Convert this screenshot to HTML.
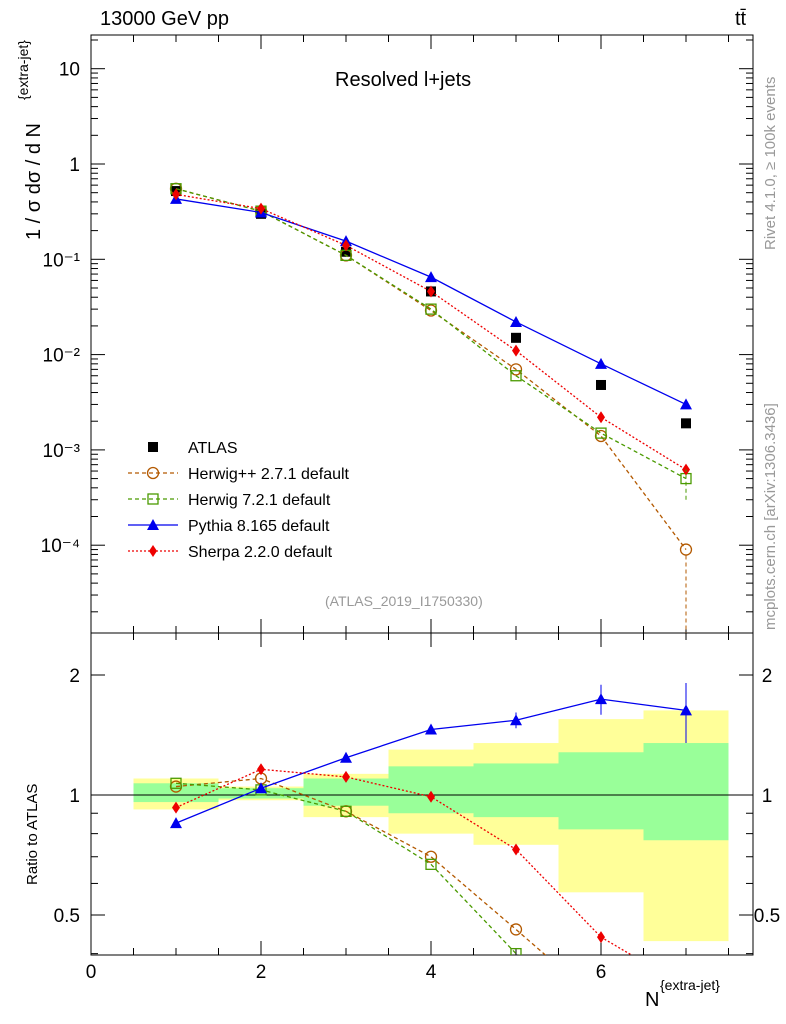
<!DOCTYPE html>
<html><head><meta charset="utf-8"><style>
html,body{margin:0;padding:0;background:#fff;width:786px;height:1024px;overflow:hidden}
svg{display:block;font-family:"Liberation Sans",sans-serif}
</style></head><body>
<svg id="c" width="786" height="1024" viewBox="0 0 786 1024" xmlns="http://www.w3.org/2000/svg"></svg>
<script>
const xs=[1,2,3,4,5,6,7];
const atlas=[0.52,0.30,0.12,0.046,0.015,0.0048,0.0019];
const herwigpp=[0.55,0.32,0.11,0.029,0.007,0.0014,0.00009];
const herwig7=[0.55,0.32,0.11,0.030,0.006,0.0015,0.0005];
const pythia=[0.43,0.31,0.155,0.065,0.022,0.008,0.003];
const sherpa=[0.48,0.34,0.14,0.046,0.011,0.0022,0.00062];
const rHpp=[1.05,1.10,0.91,0.70,0.46,0.30,0.05];
const rH7=[1.07,1.03,0.91,0.67,0.40,0.31,0.26];
const rPy=[0.85,1.04,1.24,1.46,1.54,1.74,1.63];
const rPyErr=[0.01,0.01,0.02,0.04,0.07,0.15,0.28];
const rSh=[0.93,1.16,1.11,0.99,0.73,0.44,0.33];
const bandYlo=[0.92,0.97,0.88,0.80,0.75,0.57,0.43];
const bandYhi=[1.10,1.05,1.13,1.30,1.35,1.55,1.63];
const bandGlo=[0.96,0.98,0.94,0.90,0.88,0.82,0.77];
const bandGhi=[1.07,1.04,1.10,1.18,1.20,1.28,1.35];
const yTicksMain=[-4,-3,-2,-1,0,1];
const yLabelsMain=["10\u207B\u2074","10\u207B\u00B3","10\u207B\u00B2","10\u207B\u00B9","1","10"];

const NS="http://www.w3.org/2000/svg",svg=document.getElementById('c');
function el(t,a,p){const e=document.createElementNS(NS,t);for(const k in a)e.setAttribute(k,a[k]);(p||svg).appendChild(e);return e;}
const L=91,R=753,T1=35,B1=633,T2=633,B2=955;
const X=v=>L+v*85;
const Y1=v=>164-Math.log10(v)*95.3;
const Y2=v=>795-Math.log2(v)*120;
const defs=el('defs',{});
const c1=el('clipPath',{id:'c1'},defs);el('rect',{x:L,y:T1,width:R-L,height:B1-T1},c1);
const c2=el('clipPath',{id:'c2'},defs);el('rect',{x:L,y:T2,width:R-L,height:B2-T2},c2);
const gb=el('g',{'clip-path':'url(#c2)'});

xs.forEach((x,i)=>{
 const r=el('rect',{x:X(x-0.5),y:Y2(bandYhi[i]),width:85,height:Y2(bandYlo[i])-Y2(bandYhi[i]),fill:'#ffff99'},gb);
 
 const g=el('rect',{x:X(x-0.5),y:Y2(bandGhi[i]),width:85,height:Y2(bandGlo[i])-Y2(bandGhi[i]),fill:'#99ff99'},gb);
 
});
el('line',{x1:L,x2:R,y1:Y2(1),y2:Y2(1),stroke:'#000','stroke-width':1});
el('rect',{x:L,y:T1,width:R-L,height:B1-T1,fill:'none',stroke:'#000'});
el('rect',{x:L,y:T2,width:R-L,height:B2-T2,fill:'none',stroke:'#000'});
function tk(x1,y1,x2,y2){el('line',{x1,y1,x2,y2,stroke:'#000','stroke-width':1});}
for(let v=0;v<=7.7;v+=0.5){const maj=v%2===0;const l=maj?14:7;const x=X(v);
 [B1,B2].forEach(b=>tk(x,b,x,b-l));[T1,T2].forEach(t=>tk(x,t,x,t+l));}
[0,2,4,6].forEach(v=>{const t=el('text',{x:X(v),y:978,'font-size':19,'text-anchor':'middle'});t.textContent=v;});
for(let d=-5;d<=1;d++)for(let m=1;m<10;m++){const v=m*Math.pow(10,d);const y=Y1(v);if(y<T1||y>B1)continue;const l=m===1?14:7;tk(L,y,L+l,y);tk(R,y,R-l,y);}
yTicksMain.forEach((d,i)=>{const t=el('text',{x:80,y:Y1(Math.pow(10,d))+7,'font-size':19,'text-anchor':'end'});t.textContent=yLabelsMain[i];
 });
[0.4,0.5,0.6,0.7,0.8,0.9,1,2].forEach(v=>{const y=Y2(v);const l=(v===1||v===2||v===0.5)?14:7;tk(L,y,L+l,y);tk(R,y,R-l,y);});
[[2,'2'],[1,'1'],[0.5,'0.5']].forEach(([v,s])=>{const a=el('text',{x:80,y:Y2(v)+7,'font-size':19,'text-anchor':'end'});a.textContent=s;
 const b=el('text',{x:767,y:Y2(v)+7,'font-size':19,'text-anchor':'middle'});b.textContent=s;});
function txt(x,y,s,sz,extra,name){const t=el('text',Object.assign({x,y,'font-size':sz},extra||{}));t.textContent=s;return t;}
txt(100,25,'13000 GeV pp',20,{},'title-energy');
txt(735,25,'tt\u0304',20,{},'title-process');
txt(335,86,'Resolved l+jets',20,{},'plot-title');
txt(325,606,'(ATLAS_2019_I1750330)',14,{fill:'#999'},'analysis-id');
txt(0,0,'1 / σ dσ / d N',20,{transform:'translate(40,240) rotate(-90)'},'y-axis-title');
txt(0,0,'{extra-jet}',14,{transform:'translate(28,100) rotate(-90)'},'y-axis-title-sub');
txt(0,0,'Ratio to ATLAS',15,{transform:'translate(37,885) rotate(-90)'},'ratio-y-title');
txt(645,1006,'N',20,{},'x-axis-title');
txt(660,990,'{extra-jet}',14,{},'x-axis-title-sub');
txt(0,0,'Rivet 4.1.0, ≥ 100k events',15,{fill:'#999',transform:'translate(775,250) rotate(-90)'},'rivet-label');
txt(0,0,'mcplots.cern.ch [arXiv:1306.3436]',15,{fill:'#999',transform:'translate(775,630) rotate(-90)'},'mcplots-label');
function marker(g,type,x,y,col){
 if(type==='sq')el('rect',{x:x-5,y:y-5,width:10,height:10,fill:col},g);
 else if(type==='osq')el('rect',{x:x-5,y:y-5,width:10,height:10,fill:'none',stroke:col,'stroke-width':1.3},g);
 else if(type==='oc')el('circle',{cx:x,cy:y,r:5.5,fill:'none',stroke:col,'stroke-width':1.3},g);
 else if(type==='tri')el('polygon',{points:`${x},${y-6} ${x-6},${y+5} ${x+6},${y+5}`,fill:col},g);
 else if(type==='dia')el('polygon',{points:`${x},${y-6} ${x-4},${y} ${x},${y+6} ${x+4},${y}`,fill:col},g);
}
function series(name,vals,Yf,clip,col,dash,type,line){
 const g=el('g',{'clip-path':clip});
 
 if(line){const p=el('polyline',{points:xs.map((x,i)=>X(x)+','+Yf(vals[i])).join(' '),fill:'none',stroke:col,'stroke-width':1.3},g);if(dash)p.setAttribute('stroke-dasharray',dash);}
 xs.forEach((x,i)=>marker(g,type,X(x),Yf(vals[i]),col));
 return g;
}
series('series-atlas',atlas,Y1,'url(#c1)','#000',null,'sq',false);
series('series-herwigpp',herwigpp,Y1,'url(#c1)','#b35900','4,3','oc',true);
series('series-herwig7',herwig7,Y1,'url(#c1)','#4a9a00','4,3','osq',true);
series('series-pythia',pythia,Y1,'url(#c1)','#0000ee',null,'tri',true);
series('series-sherpa',sherpa,Y1,'url(#c1)','#ee0000','2,2','dia',true);
el('line',{x1:X(7),x2:X(7),y1:Y1(herwigpp[6])+6,y2:B1,stroke:'#b35900','stroke-dasharray':'4,3'});
el('line',{x1:X(7),x2:X(7),y1:Y1(herwig7[6]*0.6),y2:Y1(herwig7[6]*1.25),stroke:'#4a9a00','stroke-dasharray':'4,3'});
series('ratio-herwigpp',rHpp,Y2,'url(#c2)','#b35900','4,3','oc',true);
series('ratio-herwig7',rH7,Y2,'url(#c2)','#4a9a00','4,3','osq',true);
const rp=series('ratio-pythia',rPy,Y2,'url(#c2)','#0000ee',null,'tri',true);
xs.forEach((x,i)=>{el('line',{x1:X(x),x2:X(x),y1:Y2(rPy[i]+rPyErr[i]),y2:Y2(rPy[i]-rPyErr[i]),stroke:'#0000ee'},rp);});
series('ratio-sherpa',rSh,Y2,'url(#c2)','#ee0000','2,2','dia',true);
const lg=el('g',{});
const ents=[['ATLAS','#000',null,'sq'],['Herwig++ 2.7.1 default','#b35900','4,3','oc'],['Herwig 7.2.1 default','#4a9a00','4,3','osq'],['Pythia 8.165 default','#0000ee',null,'tri'],['Sherpa 2.2.0 default','#ee0000','2,2','dia']];
ents.forEach((e,i)=>{const y=447+i*26;const g=el('g',{},lg);
 if(i>0){const l=el('line',{x1:128,x2:178,y1:y,y2:y,stroke:e[1],'stroke-width':1.3},g);if(e[2])l.setAttribute('stroke-dasharray',e[2]);}
 marker(g,e[3],153,y,e[1]);
 const t=el('text',{x:188,y:y+6,'font-size':16},g);t.textContent=e[0];});
</script>
</body></html>
